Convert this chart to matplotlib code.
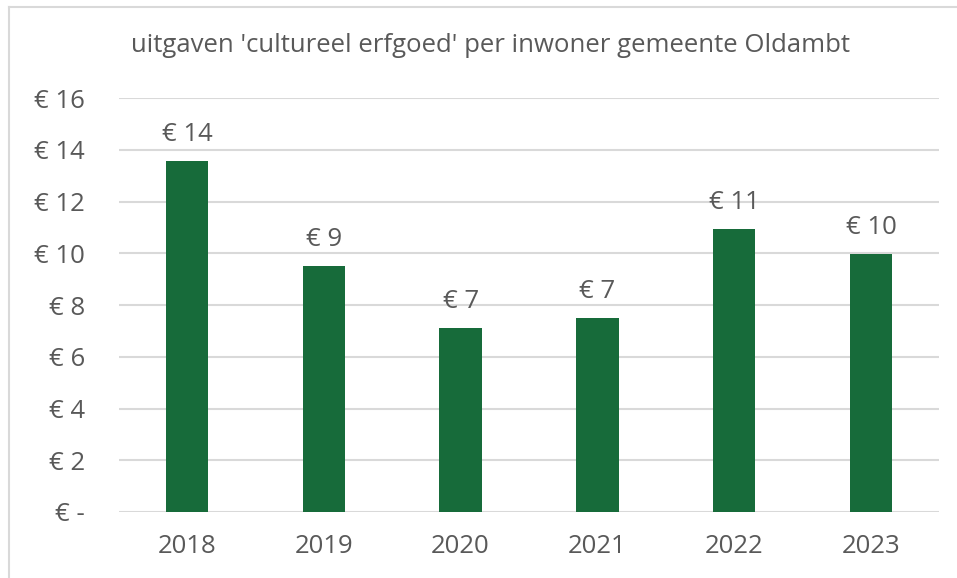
import matplotlib
matplotlib.use("Agg")
import matplotlib.pyplot as plt
from matplotlib.lines import Line2D

years = ["2018", "2019", "2020", "2021", "2022", "2023"]
spending = [13.57, 9.51, 7.11, 7.5, 10.94, 9.97]
bar_labels = ["€ 14", "€ 9", "€ 7", "€ 7", "€ 11", "€ 10"]
y_ticks = [0, 2, 4, 6, 8, 10, 12, 14, 16]
y_ticklabels = ["€ -", "€ 2", "€ 4", "€ 6", "€ 8", "€ 10", "€ 12", "€ 14", "€ 16"]
title = "uitgaven 'cultureel erfgoed' per inwoner gemeente Oldambt"

BAR_COLOR = "#176b3a"
TEXT_COLOR = "#595959"
GRID_COLOR = "#d9d9d9"
FS = 18.5

plt.rcParams["font.family"] = ["Open Sans", "DejaVu Sans"]

fig = plt.figure(figsize=(9.57, 5.78), dpi=100)
ax = fig.add_axes([0.1239, 0.1142, 0.8577, 0.7162])

xs = range(len(years))
ax.bar(xs, spending, width=0.31, color=BAR_COLOR, zorder=3)

# Data labels above the bars
for x, val, lab in zip(xs, spending, bar_labels):
    ax.annotate(lab, (x, val), xytext=(0, 10), textcoords="offset points",
                ha="center", va="bottom", fontsize=FS, color=TEXT_COLOR)

ax.set_xlim(-0.5, len(years) - 0.5)
ax.set_ylim(0, 16)
ax.set_yticks(y_ticks)
ax.set_yticklabels(y_ticklabels)
ax.set_xticks(list(xs))
ax.set_xticklabels(years)
ax.tick_params(axis="both", length=0, labelsize=FS, labelcolor=TEXT_COLOR)
ax.tick_params(axis="y", pad=24)
ax.tick_params(axis="x", pad=16)

ax.grid(axis="y", color=GRID_COLOR, linewidth=1.5, zorder=0)
for spine in ax.spines.values():
    spine.set_visible(False)

fig.text(0.513, 0.922, title, ha="center", va="center", fontsize=FS,
         color=TEXT_COLOR)

# Thin frame around the chart area (top and left edges visible)
fig.add_artist(Line2D([9 / 957, 1.0], [1 - 7 / 578, 1 - 7 / 578],
                      color=GRID_COLOR, linewidth=1.5))
fig.add_artist(Line2D([9 / 957, 9 / 957], [0.0, 1 - 7 / 578],
                      color=GRID_COLOR, linewidth=1.5))

fig.savefig("out.png", dpi=100)
